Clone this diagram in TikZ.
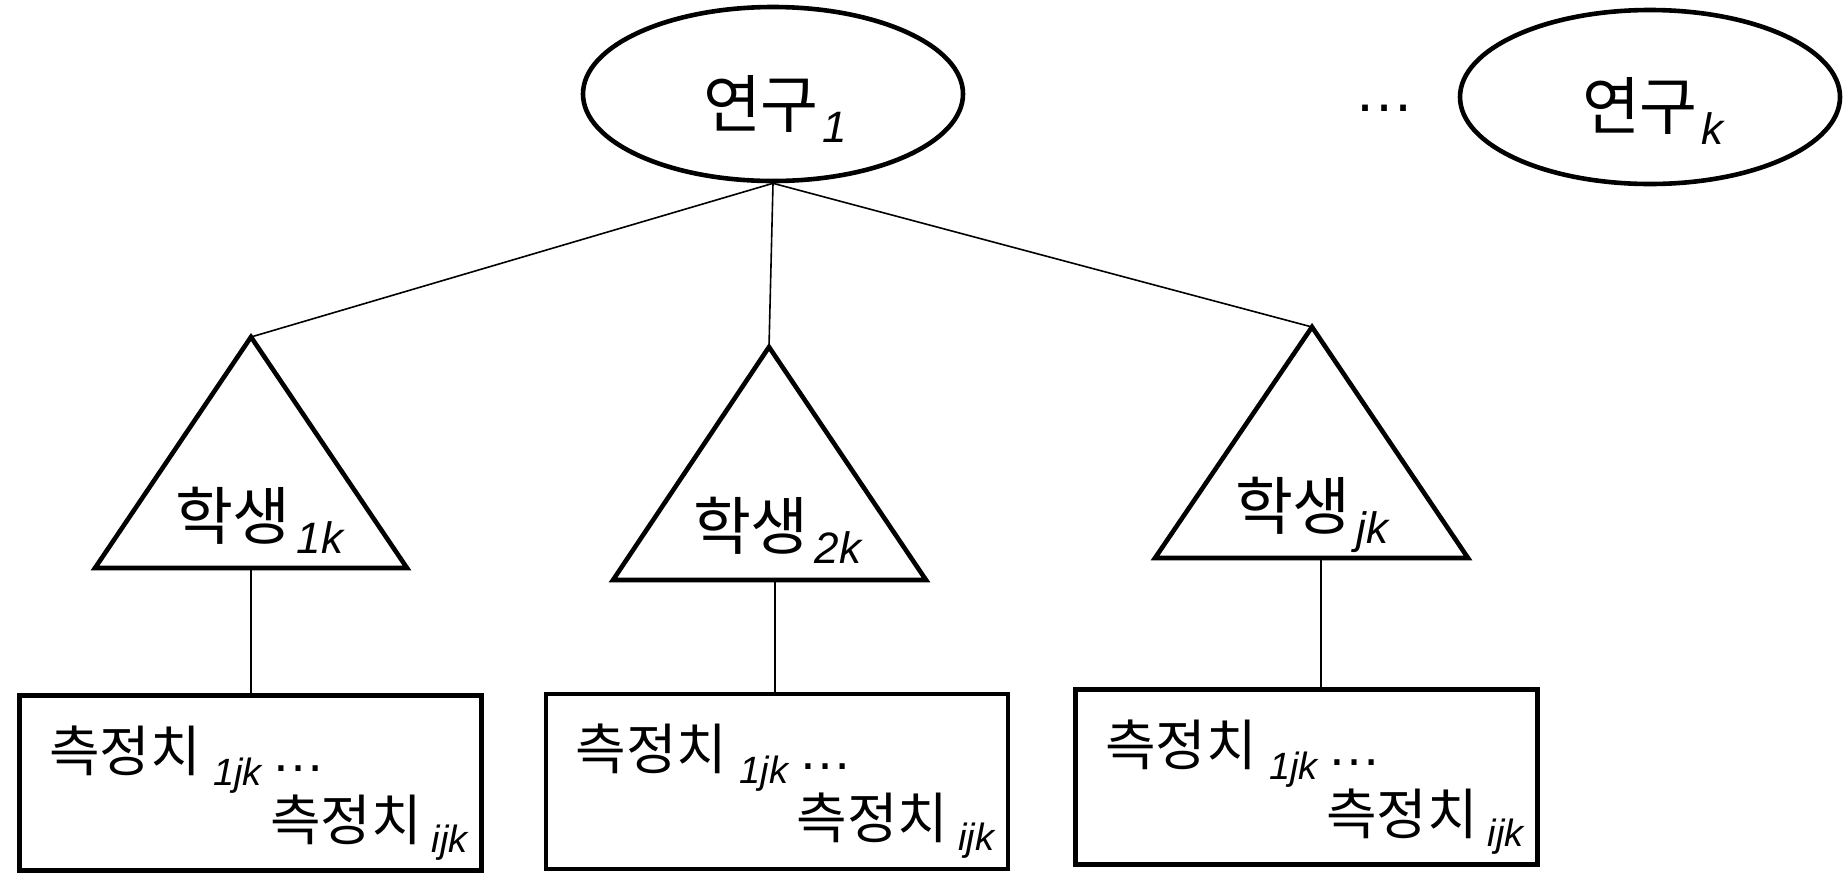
\documentclass[tikz,border=0pt]{standalone}
\usepackage{fontspec}
\setmainfont{Liberation Sans}
\newfontfamily\kr{Noto Sans CJK KR}
\usetikzlibrary{shapes.geometric}
\newcommand\BigKr[1]{{\kr\fontsize{31.5}{36}\selectfont #1}}
\newcommand\SmKr[1]{{\kr\fontsize{27.5}{32}\selectfont #1}}
\newcommand\SubTxt[3]{\raisebox{-#3}{\fontsize{#1}{#1}\selectfont\itshape #2}}
\begin{document}
\begin{tikzpicture}[x=0.5pt,y=-0.5pt,
  thickline/.style={line width=2.3pt, line join=miter},
  conn/.style={line width=0.8pt},
  study/.style={draw, thickline, ellipse, minimum width=190pt, minimum height=87pt, inner sep=0pt},
  measbox/.style={draw, thickline, rectangle, minimum width=231pt, minimum height=87.5pt, inner sep=0pt},
  txt/.style={inner sep=0pt, outer sep=0pt},
]
\useasboundingbox (0,0) rectangle (1846,885);

% studies
\node[study] (e1) at (773,94) {};
\node[study] (ek) at (1650,97) {};
\node[txt, anchor=base west] (e1lab) at (703,127) {\BigKr{연구}\hspace{2pt}\SubTxt{22}{1}{7.5pt}};
\node[txt, anchor=base west] (eklab) at (1582,129) {\BigKr{연구}\hspace{2pt}\SubTxt{22}{k}{7.5pt}};
\node[txt, anchor=base] (dots) at (1384,111) {\fontsize{30}{34}\selectfont …};

% triangles (students)
\coordinate (t1a) at (251,337);
\coordinate (t2a) at (769,347);
\coordinate (t3a) at (1312,327);
\coordinate (t1s) at (251,568);
\coordinate (t2s) at (775,580);
\coordinate (t3s) at (1321,558);
\draw[thickline] (t1a) -- (95,568) -- (407,568) -- cycle;
\draw[thickline] (t2a) -- (613,580) -- (926,580) -- cycle;
\draw[thickline] (t3a) -- (1155,558) -- (1468,558) -- cycle;
\node[txt, anchor=base west] (t1lab) at (175,539) {\BigKr{학생}\hspace{3pt}\SubTxt{22}{1k}{7pt}};
\node[txt, anchor=base west] (t2lab) at (693,549) {\BigKr{학생}\hspace{3pt}\SubTxt{22}{2k}{7pt}};
\node[txt, anchor=base west] (t3lab) at (1235,529) {\BigKr{학생}\hspace{3pt}\SubTxt{22}{jk}{7pt}};

% measurement boxes
\node[measbox] (b1) at (250.5,783) {};
\node[measbox] (b2) at (777,781.5) {};
\node[measbox] (b3) at (1306.5,777) {};
\foreach \b in {b1,b2,b3}{
  \node[txt, anchor=base west] at ([shift={(32,78)}]\b.north west)
    {\SmKr{측정치}\hspace{6pt}\SubTxt{19}{1jk}{7pt}\hspace{5pt}{\fontsize{27}{30}\selectfont …}};
  \node[txt, anchor=base east] at ([shift={(-16,147)}]\b.north east)
    {\SmKr{측정치}\hspace{5pt}\SubTxt{19}{ijk}{6pt}};
}

% connectors
\draw[conn] (e1.south) -- (t1a);
\draw[conn] (e1.south) -- (t2a);
\draw[conn] (e1.south) -- (t3a);
\draw[conn] (t1s) -- (t1s |- b1.north);
\draw[conn] (t2s) -- (t2s |- b2.north);
\draw[conn] (t3s) -- (t3s |- b3.north);
\end{tikzpicture}
\end{document}
